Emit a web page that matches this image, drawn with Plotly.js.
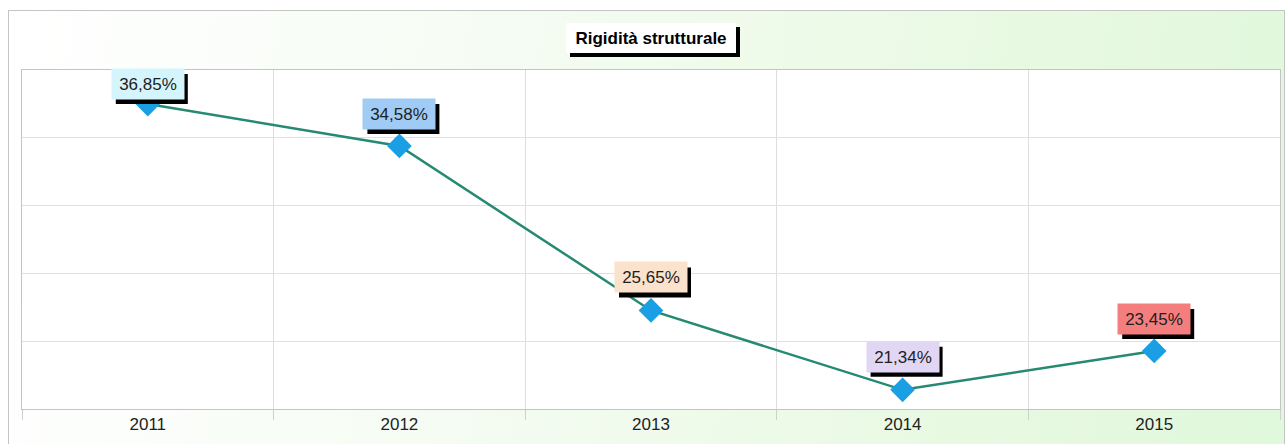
<!DOCTYPE html>
<html>
<head>
<meta charset="utf-8">
<script src="https://cdn.plot.ly/plotly-3.0.1.min.js"></script>
<style>
  body { margin: 0; background: #fff; }
  #frame {
    position: absolute; left: 8px; top: 10px; width: 1275px; height: 440px;
    border: 1px solid #c4c4c4;
    background: linear-gradient(100deg, #ffffff 0%, #f6fcf4 35%, #e8f9e2 75%, #e0f8dc 100%);
  }
  #chart { position: absolute; left: 0; top: 0; width: 1285px; height: 444px; }
</style>
</head>
<body>
<div id="frame"></div>
<div id="chart"></div>
<script>
// chart data
var years = ['2011', '2012', '2013', '2014', '2015'];
var rigidita = [36.85, 34.58, 25.65, 21.34, 23.45];
var labelText = ['36,85%', '34,58%', '25,65%', '21,34%', '23,45%'];
var labelColors = ['#d4f5fc', '#9fcbf4', '#fbe2cc', '#e2d6f5', '#f47e7e'];
var labelShift = [20, 32, 33, 33, 32];

var fontFam = 'Liberation Sans, Arial';

var trace = {
  x: years,
  y: rigidita,
  type: 'scatter',
  mode: 'lines+markers',
  line: { color: '#268a72', width: 2.5 },
  marker: { symbol: 'diamond', size: 19, color: '#1a9fe4' },
  hoverinfo: 'none'
};

var annotations = [];
var shapes = [];

// title box + black drop shadow
shapes.push({
  type: 'rect', xref: 'paper', yref: 'paper',
  xsizemode: 'pixel', ysizemode: 'pixel', xanchor: 0.5, yanchor: 1,
  x0: -85 + 4, x1: 85 + 4, y0: 32 - 15 - 4, y1: 32 + 15 - 4,
  fillcolor: '#000', line: { width: 0 }, layer: 'above'
});
annotations.push({
  x: 0.5, y: 1, xref: 'paper', yref: 'paper', yanchor: 'middle',
  text: '<b>Rigidità strutturale</b>', showarrow: false,
  yshift: 32, width: 158, height: 18,
  font: { family: fontFam, size: 17, color: '#000' },
  bgcolor: '#ffffff', bordercolor: '#bdbdbd', borderwidth: 0, borderpad: 6
});

// value labels (category index for x, the year strings look numeric)
for (var i = 0; i < years.length; i++) {
  shapes.push({
    type: 'rect', xref: 'x', yref: 'y',
    xsizemode: 'pixel', ysizemode: 'pixel', xanchor: i, yanchor: rigidita[i],
    x0: -36 + 4, x1: 36 + 4,
    y0: labelShift[i] - 15 - 5, y1: labelShift[i] + 15 - 5,
    fillcolor: '#000', line: { width: 0 }, layer: 'above'
  });
  annotations.push({
    x: i, y: rigidita[i], xref: 'x', yref: 'y',
    text: labelText[i], showarrow: false,
    yshift: labelShift[i], width: 64, height: 22,
    font: { family: fontFam, size: 17, color: '#1e1e1e' },
    bgcolor: labelColors[i], borderpad: 4
  });
}

var layout = {
  width: 1285,
  height: 444,
  margin: { l: 22, r: 5, t: 70, b: 35 },
  paper_bgcolor: 'rgba(0,0,0,0)',
  plot_bgcolor: '#ffffff',
  showlegend: false,
  font: { family: fontFam, size: 17, color: '#222' },
  xaxis: {
    type: 'category',
    range: [-0.5, 4.5],
    tickson: 'boundaries',
    ticks: 'outside',
    ticklen: 10,
    tickcolor: '#cfcfcf',
    showgrid: true,
    gridcolor: '#dedede',
    showline: true,
    linecolor: '#c4c4c4',
    mirror: true,
    tickfont: { family: fontFam, size: 17, color: '#222' },
    fixedrange: true
  },
  yaxis: {
    range: [20.3, 38.7],
    tick0: 20.3,
    dtick: 3.68,
    showticklabels: false,
    showgrid: true,
    gridcolor: '#e0e0e0',
    zeroline: false,
    showline: true,
    linecolor: '#c4c4c4',
    mirror: true,
    fixedrange: true
  },
  shapes: shapes,
  annotations: annotations
};

Plotly.newPlot('chart', [trace], layout, { staticPlot: true });
</script>
</body>
</html>
